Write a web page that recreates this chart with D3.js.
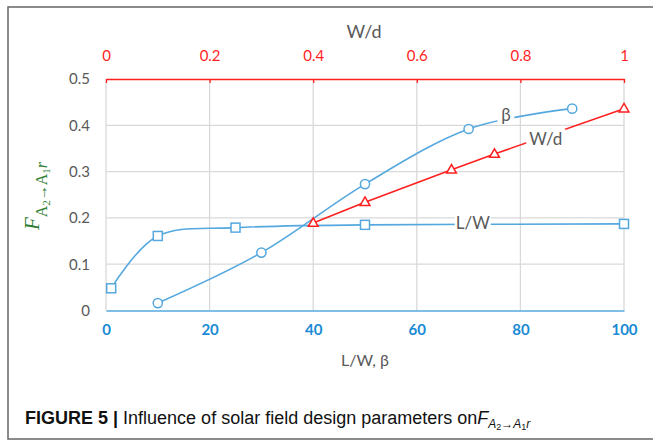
<!DOCTYPE html>
<html>
<head>
<meta charset="utf-8">
<script src="https://cdn.jsdelivr.net/npm/d3@7/dist/d3.min.js"></script>
<style>
  html, body { margin: 0; padding: 0; background: #fff; }
  svg { display: block; }
</style>
</head>
<body>
<svg id="chart" width="653" height="440"></svg>
<script>
// Series data: view factor F(A2 -> A1r) against each design parameter
const lwX   = [1, 10, 25, 50, 100];
const lwY   = [0.048, 0.161, 0.179, 0.185, 0.187];
const betaX = [10, 30, 50, 70, 90];
const betaY = [0.016, 0.125, 0.273, 0.392, 0.436];
const wdX   = [0.4, 0.5, 0.667, 0.75, 1.0];
const wdY   = [0.189, 0.234, 0.304, 0.338, 0.436];

// Axis ticks
const bottomTicks = [0, 20, 40, 60, 80, 100];
const topTicks    = [0, 0.2, 0.4, 0.6, 0.8, 1];
const yTicks      = [0, 0.1, 0.2, 0.3, 0.4, 0.5];

const svg = d3.select("#chart");

const BLUE = "#55a8de", BLUE_TXT = "#1a8bd4", RED = "#ff1f1f", GRID = "#d9d9d9", GREY = "#595959";
const FONT = "Lato, 'Open Sans', sans-serif";

const x  = d3.scaleLinear().domain([0, 100]).range([106, 624]);
const x2 = d3.scaleLinear().domain([0, 1]).range([106, 624]);
const y  = d3.scaleLinear().domain([0, 0.5]).range([310.5, 79]);

// Page frame
svg.append("rect").attr("x", 8).attr("y", 7).attr("width", 700).attr("height", 432)
  .attr("fill", "none").attr("stroke", "#666").attr("stroke-width", 1.5);

// Grid
const grid = svg.append("g");
grid.selectAll("line.v").data(bottomTicks).join("line")
  .attr("x1", d => x(d)).attr("x2", d => x(d)).attr("y1", y(0.5)).attr("y2", y(0))
  .attr("stroke", GRID).attr("stroke-width", 1.3);
grid.selectAll("line.h").data(yTicks.slice(1, -1)).join("line")
  .attr("x1", x(0)).attr("x2", x(100)).attr("y1", d => y(d)).attr("y2", d => y(d))
  .attr("stroke", GRID).attr("stroke-width", 1.3);

// Bottom axis (L/W, beta)
const bottomAxis = d3.axisBottom(x).tickValues(bottomTicks).tickSize(0).tickPadding(14).tickFormat(d3.format("d"));
const gb = svg.append("g").attr("transform", `translate(0,${y(0)})`).call(bottomAxis);
gb.select(".domain").attr("stroke", BLUE).attr("stroke-width", 1.6);
gb.selectAll("text").attr("fill", BLUE_TXT).attr("font-family", FONT).attr("font-size", 15).attr("font-weight", 700);

// Top axis (W/d)
const topAxis = d3.axisTop(x2).tickValues(topTicks).tickSizeInner(-4).tickSizeOuter(0).tickPadding(18)
  .tickFormat(d => d3.format("~g")(d));
const gt = svg.append("g").attr("transform", `translate(0,${y(0.5)})`).call(topAxis);
gt.select(".domain").attr("stroke", RED).attr("stroke-width", 1.6);
gt.selectAll(".tick line").attr("stroke", RED).attr("stroke-width", 1.3);
gt.selectAll("text").attr("fill", RED).attr("font-family", FONT).attr("font-size", 15);

// Left axis (values)
const leftAxis = d3.axisLeft(y).tickValues(yTicks).tickSize(0).tickPadding(16).tickFormat(d => d3.format("~g")(d));
const gl = svg.append("g").attr("transform", `translate(${x(0)},0)`).call(leftAxis);
gl.select(".domain").remove();
gl.selectAll("text").attr("fill", GREY).attr("font-family", FONT).attr("font-size", 15);

// Axis titles
svg.append("text").attr("x", 364).attr("y", 38).attr("text-anchor", "middle")
  .attr("font-family", FONT).attr("font-size", 18).attr("fill", GREY).text("W/d");
svg.append("text").attr("x", 365).attr("y", 366).attr("text-anchor", "middle")
  .attr("font-family", FONT).attr("font-size", 16).attr("fill", GREY).text("L/W, β");

// Y title: F with subscript A2 -> A1r
const yt = svg.append("text").attr("transform", "translate(39,196) rotate(-90)")
  .attr("text-anchor", "middle").attr("fill", "#2e7d32")
  .attr("font-family", "'Liberation Serif', 'DejaVu Serif', serif");
yt.append("tspan").attr("font-style", "italic").attr("font-size", 21).text("F");
const ySub = [["A", 16, 8, "normal"], ["2", 11, 11, "normal"], ["→", 15, 8, "normal"], ["A", 16, 8, "normal"], ["1", 11, 11, "normal"], ["r", 16, 8, "italic"]];
let prevShift = 0;
ySub.forEach(([t, fs, dy, st]) => {
  yt.append("tspan").attr("font-size", fs).attr("font-style", st).attr("dy", dy - prevShift).text(t);
  prevShift = dy;
});

// Series
const line = d3.line().x(d => d[0]).y(d => d[1]);
const smooth = d3.line().x(d => d[0]).y(d => d[1]).curve(d3.curveCardinal.tension(0));

const lwPts   = lwX.map((v, i) => [x(v), y(lwY[i])]);
const betaPts = betaX.map((v, i) => [x(v), y(betaY[i])]);
const wdPts   = wdX.map((v, i) => [x2(v), y(wdY[i])]);

svg.append("path").attr("d", smooth(lwPts)).attr("fill", "none").attr("stroke", BLUE).attr("stroke-width", 1.6);
svg.append("path").attr("d", smooth(betaPts)).attr("fill", "none").attr("stroke", BLUE).attr("stroke-width", 1.6);
svg.append("path").attr("d", line(wdPts)).attr("fill", "none").attr("stroke", RED).attr("stroke-width", 1.6);

// Markers
svg.append("g").selectAll("rect").data(lwPts).join("rect")
  .attr("x", d => d[0] - 4.5).attr("y", d => d[1] - 4.5).attr("width", 9).attr("height", 9)
  .attr("fill", "#fff").attr("stroke", BLUE).attr("stroke-width", 1.5);
svg.append("g").selectAll("circle").data(betaPts).join("circle")
  .attr("cx", d => d[0]).attr("cy", d => d[1]).attr("r", 4.6)
  .attr("fill", "#fff").attr("stroke", BLUE).attr("stroke-width", 1.5);
const tri = d3.symbol().type(d3.symbolTriangle).size(42);
svg.append("g").selectAll("path").data(wdPts).join("path")
  .attr("d", tri).attr("transform", d => `translate(${d[0]},${d[1] + 0.5})`)
  .attr("fill", "#fff").attr("stroke", RED).attr("stroke-width", 1.5);

// Series labels sitting on their lines
const seriesLabels = [
  { text: "β",   sx: x,  vx: 77.2,  vy: 0.423, w: 17 },
  { text: "W/d", sx: x2, vx: 0.849, vy: 0.371, w: 39 },
  { text: "L/W", sx: x,  vx: 70.8,  vy: 0.189, w: 36 }
];
seriesLabels.forEach(l => {
  const cx = l.sx(l.vx), cy = y(l.vy);
  svg.append("rect").attr("x", cx - l.w / 2).attr("y", cy - 10).attr("width", l.w).attr("height", 20).attr("fill", "#fff");
  svg.append("text").attr("x", cx).attr("y", cy + 6).attr("text-anchor", "middle")
    .attr("font-family", FONT).attr("font-size", 17).attr("fill", GREY).text(l.text);
});

// Caption
const cap = svg.append("text").attr("x", 25).attr("y", 424)
  .attr("font-family", "'Liberation Sans', Arial, sans-serif").attr("font-size", 18).attr("fill", "#111");
cap.append("tspan").attr("font-weight", 700).text("FIGURE 5 | ");
cap.append("tspan").text("Influence of solar field design parameters on");
cap.append("tspan").attr("font-style", "italic").text("F");
const capSub = [["A", 12, 4, "italic"], ["2", 9, 6, "normal"], ["→", 12, 4, "normal"], ["A", 12, 4, "italic"], ["1", 9, 6, "normal"], ["r", 12, 4, "italic"]];
let cprev = 0;
capSub.forEach(([t, fs, dy, st]) => {
  cap.append("tspan").attr("font-size", fs).attr("font-style", st).attr("dy", dy - cprev).text(t);
  cprev = dy;
});
</script>
</body>
</html>
